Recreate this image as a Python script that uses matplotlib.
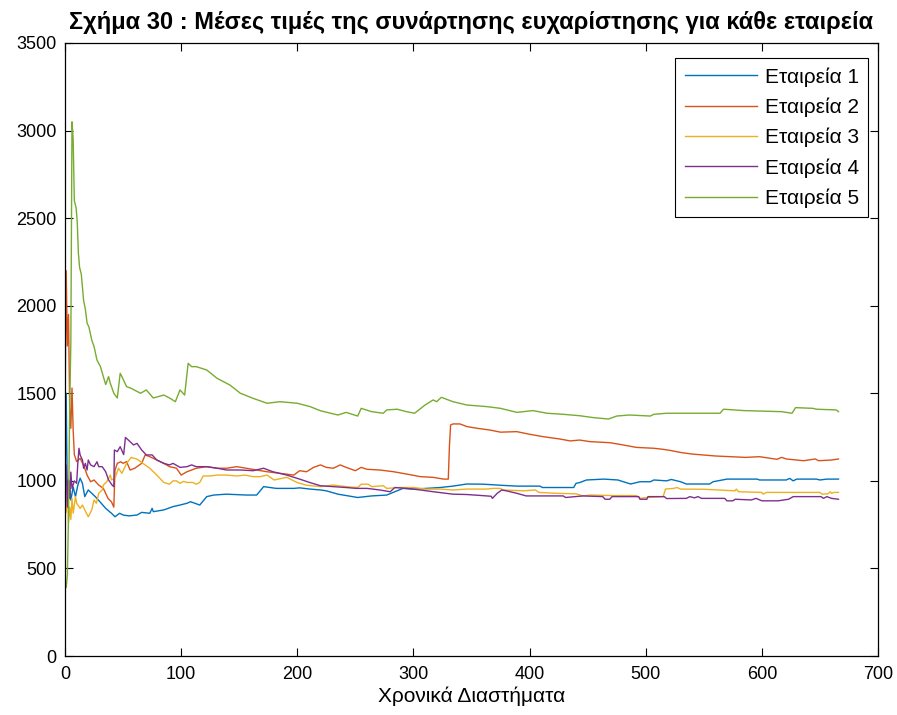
import matplotlib
matplotlib.use("Agg")
import matplotlib.pyplot as plt

plt.rcParams['font.family'] = ['Liberation Sans', 'DejaVu Sans']

# (time step, mean value) per company
etaireia1 = [(0, 1000), (1, 1500), (2, 880), (3, 1000), (4, 960), (5, 890), (7, 965), (9, 910),
             (11, 975), (13, 1015), (15, 985), (17, 910), (20, 948), (23, 929), (26, 910), (30, 881),
             (35, 843), (40, 815), (43, 795), (47, 815), (50, 805), (55, 800), (62, 805), (66, 820),
             (73, 815), (75, 843), (76, 824), (85, 834), (93, 853), (99, 862), (105, 872), (108, 881),
             (116, 862), (122, 910), (128, 919), (139, 924), (156, 919), (165, 919), (171, 967),
             (182, 957), (197, 957), (202, 960), (211, 953), (220, 948), (225, 943), (235, 924),
             (244, 914), (252, 905), (264, 914), (277, 919), (284, 938), (291, 957), (300, 953),
             (311, 957), (323, 962), (334, 970), (346, 982), (360, 981), (375, 975), (389, 970),
             (409, 970), (411, 962), (438, 962), (440, 986), (443, 990), (449, 1005), (464, 1010),
             (476, 1005), (487, 982), (495, 995), (504, 995), (507, 1005), (518, 1000), (522, 1008),
             (530, 995), (535, 982), (555, 982), (558, 995), (570, 1010), (596, 1010), (598, 1005),
             (621, 1005), (624, 1014), (627, 1000), (630, 1010), (647, 1010), (650, 1005),
             (656, 1010), (666, 1010)]

etaireia2 = [(0, 1400), (1, 2200), (2, 1770), (3, 1950), (4, 1420), (5, 1300), (6, 1530), (7, 1290),
             (8, 1150), (10, 1110), (13, 1128), (16, 1090), (19, 1033), (22, 995), (25, 1005),
             (29, 976), (33, 957), (37, 900), (40, 880), (42, 850), (43, 1060), (45, 1100),
             (48, 1109), (50, 1100), (53, 1110), (56, 1062), (60, 1072), (66, 1100), (69, 1148),
             (73, 1138), (79, 1119), (85, 1100), (90, 1081), (96, 1072), (100, 1033), (105, 1052),
             (109, 1062), (113, 1072), (122, 1081), (131, 1072), (139, 1072), (148, 1081),
             (156, 1072), (165, 1062), (174, 1052), (185, 1043), (197, 1033), (202, 1058),
             (208, 1052), (214, 1077), (220, 1091), (225, 1077), (231, 1072), (237, 1091),
             (242, 1077), (250, 1058), (255, 1077), (260, 1066), (271, 1062), (283, 1052),
             (294, 1039), (306, 1024), (317, 1020), (326, 1010), (330, 1010), (331, 1200),
             (332, 1319), (334, 1325), (340, 1325), (346, 1310), (355, 1300), (366, 1290),
             (375, 1278), (389, 1281), (400, 1266), (412, 1252), (426, 1239), (435, 1228),
             (443, 1233), (452, 1224), (469, 1218), (478, 1208), (492, 1191), (507, 1186),
             (515, 1180), (521, 1174), (530, 1162), (540, 1153), (560, 1142), (586, 1134),
             (598, 1138), (613, 1123), (617, 1134), (621, 1125), (636, 1115), (646, 1125),
             (649, 1115), (660, 1119), (666, 1125)]

etaireia3 = [(0, 900), (1, 820), (2, 948), (3, 760), (4, 850), (5, 780), (6, 900), (7, 815), (9, 910),
             (10, 872), (13, 843), (15, 862), (17, 834), (20, 795), (23, 834), (25, 891), (27, 872),
             (29, 929), (32, 948), (33, 976), (36, 995), (39, 1033), (40, 1005), (43, 1015),
             (46, 1072), (49, 1043), (53, 1100), (57, 1134), (62, 1124), (67, 1100), (73, 1072),
             (79, 1033), (85, 991), (90, 981), (93, 1000), (96, 1000), (99, 986), (102, 997),
             (105, 991), (110, 991), (113, 981), (116, 991), (119, 1028), (125, 1028), (131, 1033),
             (139, 1033), (148, 1028), (155, 1033), (162, 1024), (168, 1024), (174, 1033),
             (180, 1005), (191, 1020), (200, 990), (208, 975), (220, 967), (231, 976), (242, 967),
             (252, 962), (255, 981), (261, 981), (264, 967), (274, 972), (277, 957), (288, 962),
             (300, 962), (311, 953), (323, 953), (334, 948), (346, 953), (363, 953), (369, 957),
             (375, 957), (377, 948), (395, 943), (405, 948), (408, 934), (423, 929), (440, 926),
             (446, 914), (452, 919), (472, 916), (492, 916), (495, 900), (501, 905), (515, 910),
             (517, 953), (524, 957), (527, 962), (530, 953), (550, 952), (577, 943), (578, 953),
             (580, 938), (600, 934), (601, 924), (604, 934), (650, 934), (652, 924), (657, 926),
             (659, 938), (660, 929), (662, 934), (666, 934)]

etaireia4 = [(0, 1000), (1, 1090), (2, 850), (3, 1005), (4, 900), (5, 1050), (6, 957), (8, 1000),
             (10, 986), (11, 1100), (12, 1186), (13, 1148), (15, 1119), (16, 1072), (17.5, 1100),
             (19, 1062), (20, 1119), (22, 1091), (25, 1081), (27.5, 1109), (29, 1081), (32, 1081),
             (35, 1052), (37.5, 1005), (40.5, 976), (42, 967), (42.5, 1176), (45, 1167),
             (47.5, 1195), (50.5, 1150), (52, 1248), (56, 1224), (59, 1205), (62, 1214), (66, 1176),
             (70, 1148), (75, 1148), (79, 1119), (85, 1100), (90, 1091), (93, 1100), (99, 1077),
             (105, 1081), (109, 1091), (113, 1081), (122, 1081), (131, 1072), (139, 1062),
             (151, 1062), (162, 1058), (171, 1072), (179, 1052), (191, 1033), (202, 1010),
             (211, 990), (220, 972), (231, 967), (242, 962), (251, 957), (260, 957), (271, 948),
             (280, 938), (284, 962), (294, 957), (306, 948), (317, 938), (334, 924), (346, 922),
             (357, 917), (367, 912), (368, 900), (372, 928), (376, 948), (380, 943), (389, 929),
             (397, 914), (429, 914), (431, 905), (446, 914), (463, 910), (465, 895), (469, 895),
             (471, 910), (494, 910), (495, 895), (501, 895), (502, 910), (516, 910), (518, 899),
             (535, 900), (538, 910), (542, 903), (545, 910), (548, 900), (568, 900), (570, 886),
             (575, 886), (577, 895), (591, 891), (595, 900), (600, 886), (614, 886), (623, 895),
             (627, 910), (651, 910), (653, 900), (656, 910), (660, 900), (666, 895)]

etaireia5 = [(0, 420), (1, 390), (2, 460), (3, 800), (4, 1420), (5, 1790), (6, 3050), (7, 2950),
             (8, 2600), (9.5, 2560), (10.5, 2480), (11.5, 2300), (12.5, 2220), (14, 2180), (16, 2030),
             (17.5, 1980), (19, 1900), (20.5, 1880), (23, 1804), (25, 1766), (27.5, 1690),
             (30.5, 1652), (33, 1595), (35, 1550), (37.5, 1595), (39, 1557), (42, 1500), (45, 1473),
             (47.5, 1614), (49, 1595), (53, 1538), (57, 1528), (65, 1500), (70, 1519), (76, 1473),
             (85, 1490), (90, 1473), (95, 1452), (99, 1519), (103, 1490), (106, 1671), (109, 1652),
             (113, 1652), (122, 1633), (131, 1585), (142, 1547), (151, 1500), (162, 1471),
             (174, 1443), (185, 1452), (200, 1443), (211, 1424), (220, 1400), (235, 1376),
             (242, 1391), (252, 1370), (255, 1414), (264, 1395), (274, 1386), (277, 1405),
             (286, 1409), (294, 1395), (301, 1386), (310, 1433), (317, 1462), (320, 1452),
             (324, 1477), (334, 1452), (346, 1433), (363, 1424), (375, 1414), (389, 1391),
             (403, 1401), (415, 1386), (429, 1380), (443, 1372), (455, 1361), (468, 1353),
             (475, 1370), (486, 1376), (504, 1370), (507, 1380), (518, 1386), (543, 1386),
             (564, 1386), (567, 1409), (585, 1401), (617, 1395), (626, 1386), (629, 1418),
             (644, 1414), (647, 1409), (664, 1405), (666, 1395)]

series = [etaireia1, etaireia2, etaireia3, etaireia4, etaireia5]
labels = ['Εταιρεία 1', 'Εταιρεία 2', 'Εταιρεία 3', 'Εταιρεία 4', 'Εταιρεία 5']
colors = ['#0072BD', '#D95319', '#EDB120', '#7E2F8E', '#77AC30']

fig = plt.figure(figsize=(8.97, 7.15), dpi=100)
ax = fig.add_axes([0.0725, 0.0825, 0.9063, 0.8574])

for pts, lab, col in zip(series, labels, colors):
    xs = [p[0] for p in pts]
    ys = [p[1] for p in pts]
    ax.plot(xs, ys, color=col, lw=1.0, label=lab)

ax.set_xlim(0, 700)
ax.set_ylim(0, 3500)
ax.set_xticks(range(0, 701, 100))
ax.set_yticks(range(0, 3501, 500))
ax.tick_params(direction='in', top=True, right=True, length=6, width=0.8, labelsize=13)
ax.tick_params(axis='x', pad=7)
ax.tick_params(axis='y', pad=6)
for s in ax.spines.values():
    s.set_linewidth(0.9)

ax.set_title('Σχήμα 30 : Μέσες τιμές της συνάρτησης ευχαρίστησης για κάθε εταιρεία',
             fontsize=17, fontweight='bold', pad=10)
ax.set_xlabel('Χρονικά Διαστήματα', fontsize=15, labelpad=3)

leg = ax.legend(loc='upper right', bbox_to_anchor=(0.988, 0.976), borderaxespad=0,
                fontsize=15, fancybox=False, edgecolor='black', framealpha=1,
                handlelength=3.5, borderpad=0.45, labelspacing=0.52, handletextpad=0.35)
leg.get_frame().set_linewidth(0.8)

fig.savefig('out.png', dpi=100)
